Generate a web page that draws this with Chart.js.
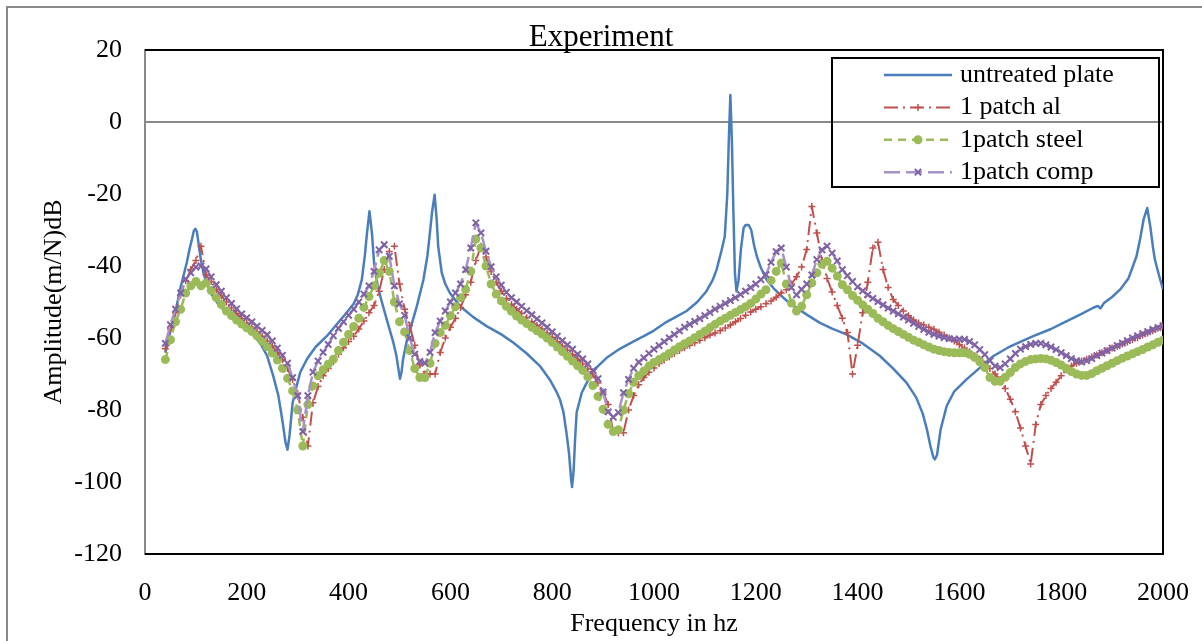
<!DOCTYPE html>
<html>
<head>
<meta charset="utf-8">
<title>Experiment</title>
<script src="https://cdn.jsdelivr.net/npm/chart.js@4.4.1/dist/chart.umd.min.js"></script>
<style>
  body { margin: 0; background: #fff; }
  canvas { display: block; }
</style>
</head>
<body>
<canvas id="fraChart" width="1202" height="641"></canvas>
<script>
// frequency grid of the patched plate measurements (Hz)
const freqHz = [
    40, 50, 60, 70, 80, 90, 100, 110, 120, 130,
    140, 150, 160, 170, 180, 190, 200, 210, 220, 230,
    240, 250, 260, 270, 280, 290, 300, 310, 320, 330,
    340, 350, 360, 370, 380, 390, 400, 410, 420, 430,
    440, 450, 460, 470, 480, 490, 500, 510, 520, 530,
    540, 550, 560, 570, 580, 590, 600, 610, 620, 630,
    640, 650, 660, 670, 680, 690, 700, 710, 720, 730,
    740, 750, 760, 770, 780, 790, 800, 810, 820, 830,
    840, 850, 860, 870, 880, 890, 900, 910, 920, 930,
    940, 950, 960, 970, 980, 990, 1000, 1010, 1020, 1030,
    1040, 1050, 1060, 1070, 1080, 1090, 1100, 1110, 1120, 1130,
    1140, 1150, 1160, 1170, 1180, 1190, 1200, 1210, 1220, 1230,
    1240, 1250, 1260, 1270, 1280, 1290, 1300, 1310, 1320, 1330,
    1340, 1350, 1360, 1370, 1380, 1390, 1400, 1410, 1420, 1430,
    1440, 1450, 1460, 1470, 1480, 1490, 1500, 1510, 1520, 1530,
    1540, 1550, 1560, 1570, 1580, 1590, 1600, 1610, 1620, 1630,
    1640, 1650, 1660, 1670, 1680, 1690, 1700, 1710, 1720, 1730,
    1740, 1750, 1760, 1770, 1780, 1790, 1800, 1810, 1820, 1830,
    1840, 1850, 1860, 1870, 1880, 1890, 1900, 1910, 1920, 1930,
    1940, 1950, 1960, 1970, 1980, 1990, 2000
];

// amplitude (dB) with one aluminium patch
const patchAl = [
    -63.0, -57.5, -53.0, -48.0, -44.0, -41.0, -38.5, -34.5, -42.5, -44.3,
    -46.5, -48.3, -50.0, -51.7, -53.2, -54.6, -55.8, -57.0, -58.2, -59.5,
    -60.8, -62.3, -64.0, -66.0, -68.5, -71.5, -75.5, -82.0, -90.0, -78.0,
    -73.5, -70.5, -68.5, -66.5, -64.5, -62.7, -61.0, -59.5, -57.5, -55.3,
    -53.0, -51.0, -47.0, -41.0, -36.0, -34.5, -45.0, -52.0, -56.5, -62.0,
    -67.5, -70.0, -70.0, -70.0, -64.0, -60.0, -57.0, -54.5, -51.5, -48.0,
    -44.5, -38.5, -34.5, -37.5, -41.5, -44.5, -47.0, -49.0, -50.6, -52.0,
    -53.2, -54.4, -55.5, -56.5, -57.5, -58.6, -59.8, -61.0, -62.2, -63.4,
    -64.6, -65.9, -67.2, -68.6, -70.2, -72.5, -75.0, -78.5, -86.0, -86.3,
    -86.3, -80.0, -76.0, -73.0, -71.0, -69.5, -68.3, -67.1, -66.1, -65.2,
    -64.3, -63.5, -62.7, -62.0, -61.3, -60.6, -59.9, -59.2, -58.6, -58.0,
    -57.2, -56.4, -55.5, -54.6, -53.7, -52.8, -52.0, -51.3, -50.5, -49.7,
    -48.7, -47.5, -46.6, -45.0, -43.0, -40.3, -35.4, -23.5, -30.8, -38.5,
    -43.5, -47.2, -51.0, -54.5, -58.5, -70.0, -62.0, -53.0, -44.5, -35.0,
    -33.4, -41.0, -46.0, -49.3, -51.0, -52.5, -53.8, -55.0, -55.8, -56.4,
    -57.0, -57.6, -58.4, -59.2, -60.0, -60.8, -61.8, -62.8, -63.8, -64.9,
    -65.9, -67.2, -68.5, -70.0, -71.5, -74.0, -77.0, -80.5, -85.0, -90.0,
    -95.0, -84.0, -78.5, -76.0, -74.0, -72.3, -70.5, -68.8, -67.8, -67.0,
    -66.4, -65.9, -65.3, -64.7, -64.1, -63.5, -62.8, -62.3, -61.7, -61.1,
    -60.5, -59.9, -59.2, -58.6, -58.0, -57.3, -56.7
];

// amplitude (dB) with one steel patch
const patchSteel = [
    -66.0, -60.5, -55.5, -52.0, -47.5, -45.5, -44.3, -45.5, -44.7, -46.8,
    -48.8, -50.7, -52.5, -53.8, -55.0, -56.1, -57.2, -58.2, -59.4, -60.9,
    -62.4, -64.2, -66.1, -68.4, -71.2, -74.7, -80.0, -90.0, -78.5, -73.3,
    -70.5, -68.8, -67.3, -65.9, -63.5, -61.2, -59.0, -56.8, -54.5, -51.5,
    -48.5, -45.5, -42.0, -38.5, -41.5, -50.0, -55.5, -58.3, -63.5, -68.5,
    -71.0, -71.0, -67.0, -61.5, -58.5, -56.5, -53.8, -51.3, -48.8, -46.5,
    -41.5, -32.5, -35.0, -40.0, -45.0, -47.8, -49.7, -51.2, -52.6, -53.9,
    -55.0, -56.0, -57.0, -58.0, -58.9, -60.0, -61.2, -62.5, -63.8, -65.1,
    -66.4, -67.7, -69.0, -70.8, -73.2, -76.2, -79.8, -84.0, -86.0, -85.5,
    -80.0, -75.5, -72.3, -70.5, -69.2, -67.8, -66.8, -66.0, -65.2, -64.3,
    -63.3, -62.4, -61.6, -60.8, -59.9, -59.0, -58.1, -57.1, -56.2, -55.3,
    -54.5, -53.7, -52.9, -52.1, -51.3, -50.4, -49.2, -47.8, -46.6, -44.0,
    -41.5, -39.2, -45.0, -50.3, -52.5, -51.2, -48.0, -44.7, -41.9, -39.5,
    -38.7, -40.6, -42.8, -45.2, -46.6, -48.2, -49.5, -50.8, -52.0, -53.2,
    -54.5, -55.5, -56.5, -57.4, -58.2, -59.0, -59.8, -60.6, -61.2, -61.9,
    -62.5, -63.1, -63.5, -63.8, -64.0, -64.1, -64.1, -64.1, -64.5, -65.4,
    -66.6, -68.2, -71.0, -72.0, -72.0, -70.9, -69.6, -68.2, -67.2, -66.5,
    -66.0, -65.8, -65.7, -65.8, -66.2, -66.8, -67.5, -68.4, -69.3, -70.0,
    -70.4, -70.4, -69.9, -69.1, -68.4, -67.7, -67.0, -66.3, -65.6, -65.0,
    -64.4, -63.8, -63.2, -62.5, -61.9, -61.2, -60.6
];

// amplitude (dB) with one composite patch
const patchComp = [
    -61.5, -56.3, -52.0, -47.5, -43.7, -41.9, -40.3, -40.0, -40.8, -43.0,
    -45.2, -47.0, -48.8, -50.4, -51.9, -53.3, -54.4, -55.5, -56.7, -57.9,
    -59.1, -60.8, -62.8, -64.8, -67.0, -71.0, -76.0, -86.0, -76.0, -69.5,
    -66.4, -64.0, -61.8, -59.4, -57.3, -55.5, -53.7, -52.0, -50.0, -47.8,
    -45.5, -41.5, -35.5, -34.1, -37.3, -45.5, -50.5, -53.7, -60.0, -64.5,
    -66.5, -67.0, -64.0, -58.5, -55.3, -52.5, -50.0, -47.5, -45.0, -41.0,
    -35.0, -28.0, -30.8, -35.9, -40.2, -43.0, -45.3, -47.3, -48.8, -50.0,
    -51.2, -52.4, -53.5, -54.7, -55.8, -57.0, -58.3, -59.5, -60.7, -61.9,
    -63.1, -64.5, -65.8, -67.2, -69.0, -71.3, -75.0, -80.5, -82.0, -80.7,
    -75.2, -71.5, -68.4, -66.7, -65.5, -64.3, -63.1, -62.1, -61.0, -60.0,
    -59.0, -58.0, -57.0, -56.2, -55.4, -54.6, -53.8, -52.9, -52.0, -51.2,
    -50.4, -49.6, -48.8, -47.9, -47.0, -46.0, -45.0, -43.8, -42.4, -39.0,
    -36.0, -35.0, -40.3, -46.0, -48.0, -46.5, -45.0, -42.5, -38.2, -35.5,
    -34.5, -36.4, -38.6, -41.0, -42.7, -44.3, -45.8, -46.9, -48.0, -49.0,
    -49.9, -50.8, -51.7, -52.5, -53.3, -54.2, -55.0, -55.9, -56.8, -57.6,
    -58.4, -59.0, -59.5, -59.9, -60.2, -60.3, -60.3, -60.4, -61.0, -61.9,
    -63.2, -64.6, -66.3, -67.8, -68.2, -67.2, -65.8, -64.3, -63.1, -62.4,
    -61.8, -61.5, -61.5, -61.9, -62.5, -63.2, -64.1, -64.9, -65.7, -66.3,
    -66.7, -66.3, -65.7, -64.9, -64.2, -63.5, -62.8, -62.1, -61.4, -60.7,
    -60.0, -59.4, -58.8, -58.2, -57.6, -57.1, -56.6
];

// untreated plate, sampled more finely around the sharp resonances
const plateFreq = [
    40, 50, 60, 69, 76, 82, 88, 92, 96, 99,
    102, 106, 110, 115, 121, 130, 147, 165, 187, 205,
    226, 240, 252, 262, 270, 276, 280, 284, 290, 298,
    305, 318, 335, 357, 376, 396, 410, 418, 426, 432,
    436, 441, 446, 450, 457, 464, 475, 488, 494, 498,
    501, 504, 507, 514, 521, 534, 547, 555, 559, 564,
    569, 573, 576, 583, 590, 599, 619, 645, 671, 700,
    724, 750, 776, 795, 808, 815, 822, 828, 833, 837,
    839, 842, 845, 848, 858, 868, 874, 890, 907, 933,
    959, 980, 999, 1025, 1045, 1064, 1085, 1103, 1115, 1123,
    1133, 1139, 1144, 1147, 1150, 1153, 1156, 1159, 1162, 1166,
    1171, 1176, 1180, 1186, 1191, 1197, 1202, 1210, 1221, 1235,
    1247, 1262, 1280, 1300, 1326, 1350, 1378, 1410, 1444, 1470,
    1496, 1515, 1528, 1536, 1543, 1549, 1552, 1556, 1563, 1575,
    1590, 1614, 1640, 1667, 1700, 1745, 1780, 1811, 1840, 1863,
    1872, 1877, 1884, 1900, 1916, 1932, 1948, 1955, 1962, 1969,
    1975, 1980, 1984, 1992, 2000
];
const plateDb = [
    -64.1, -58.0, -52.5, -46.5, -42.5, -39.1, -35.0, -32.7, -30.2, -29.7,
    -30.5, -34.5, -38.5, -42.0, -44.7, -47.8, -51.2, -53.5, -55.8, -58.0,
    -61.3, -65.0, -70.6, -76.0, -83.0, -89.0, -91.0, -87.0, -78.0, -73.3,
    -69.5, -65.9, -62.5, -59.5, -56.3, -53.0, -50.5, -48.0, -43.8, -37.0,
    -31.0, -24.8, -31.0, -39.1, -45.5, -49.3, -54.9, -61.3, -65.0, -68.7,
    -71.3, -69.5, -65.9, -61.0, -57.6, -51.2, -43.8, -37.0, -31.8, -25.0,
    -20.2, -27.0, -34.5, -41.9, -45.0, -47.5, -51.2, -54.2, -56.7, -59.0,
    -61.3, -64.3, -67.8, -71.5, -74.8, -77.0, -80.5, -86.3, -92.0, -99.0,
    -101.4, -97.0, -88.0, -80.7, -75.2, -72.4, -70.6, -67.8, -65.5, -63.0,
    -61.0, -59.5, -58.0, -55.5, -54.0, -52.5, -50.0, -47.0, -44.0, -41.0,
    -35.5, -31.8, -20.0, -5.0, 7.5, -5.0, -25.0, -42.0, -47.0, -44.0,
    -35.0, -29.5, -28.6, -28.6, -30.0, -34.5, -37.3, -40.5, -43.8, -46.2,
    -47.9, -49.8, -51.6, -53.5, -55.8, -57.4, -59.0, -61.5, -65.0, -68.5,
    -72.4, -76.5, -81.0, -85.3, -90.0, -93.2, -93.7, -92.5, -85.5, -78.9,
    -74.8, -71.5, -68.3, -65.0, -62.3, -59.5, -57.5, -55.3, -53.3, -51.6,
    -51.1, -51.8, -50.3, -48.6, -46.5, -43.5, -37.3, -32.5, -27.0, -23.9,
    -29.0, -34.5, -38.2, -42.5, -46.5
];

const seriesNames = ['untreated plate', '1 patch al', '1patch steel', '1patch comp'];

const serif = "'Liberation Serif', 'Times New Roman', serif";
const axisGray = '#898989';

function toPoints(xs, ys) {
    return xs.map((x, i) => ({ x: x, y: ys[i] }));
}

// white page, outer chart border and the black plot-area frame
const framePlugin = {
    id: 'frame',
    beforeDraw(chart) {
        const ctx = chart.ctx;
        ctx.save();
        ctx.fillStyle = '#fff';
        ctx.fillRect(0, 0, chart.width, chart.height);
        ctx.strokeStyle = axisGray;
        ctx.lineWidth = 2;
        ctx.strokeRect(7, 7, chart.width + 20, chart.height + 20);
        ctx.restore();
    },
    beforeDatasetsDraw(chart) {
        const { ctx, chartArea: a } = chart;
        ctx.save();
        ctx.strokeStyle = '#000';
        ctx.lineWidth = 2;
        ctx.beginPath();
        ctx.moveTo(a.left, a.top);
        ctx.lineTo(a.right, a.top);
        ctx.lineTo(a.right, a.bottom);
        ctx.lineTo(a.left, a.bottom);
        ctx.stroke();
        ctx.restore();
    }
};

function drawMarker(ctx, ds, x, y) {
    ctx.save();
    ctx.fillStyle = ds.pointBackgroundColor || ds.borderColor;
    ctx.strokeStyle = ds.pointBorderColor || ds.borderColor;
    ctx.lineWidth = ds.pointBorderWidth || 1;
    const r = ds.pointRadius;
    ctx.beginPath();
    if (ds.pointStyle === 'circle') {
        ctx.arc(x, y, r, 0, Math.PI * 2);
        ctx.fill();
    } else if (ds.pointStyle === 'cross') {
        ctx.moveTo(x - r, y); ctx.lineTo(x + r, y);
        ctx.moveTo(x, y - r); ctx.lineTo(x, y + r);
        ctx.stroke();
    } else {
        const d = r * 0.7071;
        ctx.moveTo(x - d, y - d); ctx.lineTo(x + d, y + d);
        ctx.moveTo(x - d, y + d); ctx.lineTo(x + d, y - d);
        ctx.stroke();
    }
    ctx.restore();
}

// boxed legend in the upper right of the plot
const boxLegend = {
    id: 'boxLegend',
    afterDraw(chart) {
        const ctx = chart.ctx;
        ctx.save();
        ctx.strokeStyle = '#000';
        ctx.lineWidth = 2;
        ctx.strokeRect(832, 58, 327, 129);
        ctx.font = '26px ' + serif;
        ctx.textBaseline = 'middle';
        ctx.textAlign = 'left';
        chart.data.datasets.forEach((ds, i) => {
            const y = 75 + i * 32.4;
            ctx.strokeStyle = ds.borderColor;
            ctx.lineWidth = ds.borderWidth;
            ctx.setLineDash(ds.borderDash || []);
            ctx.beginPath();
            ctx.moveTo(884, y);
            ctx.lineTo(952, y);
            ctx.stroke();
            ctx.setLineDash([]);
            if (ds.pointRadius > 0) drawMarker(ctx, ds, 918, y);
            ctx.fillStyle = '#000';
            ctx.fillText(ds.label, 960, y);
        });
        ctx.restore();
    }
};

const tickFont = { family: serif, size: 26 };

new Chart(document.getElementById('fraChart'), {
    type: 'line',
    data: {
        datasets: [
            {
                label: seriesNames[0],
                data: toPoints(plateFreq, plateDb),
                borderColor: '#4a7ebb',
                borderWidth: 2.5,
                pointRadius: 0,
                order: 4
            },
            {
                label: seriesNames[1],
                data: toPoints(freqHz, patchAl),
                borderColor: '#c0504d',
                borderWidth: 2,
                borderDash: [14, 5, 2, 5],
                pointStyle: 'cross',
                pointRadius: 3.5,
                pointBorderWidth: 1.5,
                pointBorderColor: '#c0504d',
                order: 3
            },
            {
                label: seriesNames[2],
                data: toPoints(freqHz, patchSteel),
                borderColor: '#9bbb59',
                borderWidth: 2.5,
                borderDash: [8, 6],
                pointStyle: 'circle',
                pointRadius: 4.5,
                pointBackgroundColor: '#9bbb59',
                pointBorderColor: '#9bbb59',
                pointBorderWidth: 0,
                order: 2
            },
            {
                label: seriesNames[3],
                data: toPoints(freqHz, patchComp),
                borderColor: '#a692c8',
                borderWidth: 2.5,
                borderDash: [16, 6],
                pointStyle: 'crossRot',
                pointRadius: 4.5,
                pointBorderColor: '#7f62a4',
                pointBorderWidth: 2,
                order: 1
            }
        ]
    },
    options: {
        responsive: false,
        devicePixelRatio: 1,
        animation: false,
        events: [],
        layout: { padding: { left: 39, right: 39, top: 0, bottom: 0 } },
        elements: { line: { tension: 0, borderJoinStyle: 'round' } },
        plugins: {
            legend: { display: false },
            tooltip: { enabled: false },
            title: {
                display: true,
                text: 'Experiment',
                color: '#000',
                font: { family: serif, size: 31, weight: 'normal', lineHeight: 0.8 },
                padding: { top: 25.2, bottom: 0 }
            }
        },
        scales: {
            x: {
                type: 'linear',
                min: 0,
                max: 2000,
                ticks: {
                    stepSize: 200,
                    autoSkip: false,
                    maxRotation: 0,
                    color: '#000',
                    font: tickFont,
                    padding: 16,
                    callback: v => String(v)
                },
                grid: { display: false },
                border: { color: '#000', width: 2 },
                title: {
                    display: true,
                    text: 'Frequency in hz',
                    color: '#000',
                    font: tickFont,
                    padding: { top: 0, bottom: 1.4 }
                },
                afterFit(scale) {
                    scale.height = 87;
                    // the "2000" label fits in the right margin already
                    scale.paddingRight = 0;
                }
            },
            y: {
                min: -120,
                max: 20,
                ticks: {
                    stepSize: 20,
                    color: '#000',
                    font: tickFont,
                    padding: 23,
                    callback: v => String(v)
                },
                grid: {
                    drawTicks: false,
                    lineWidth: 2,
                    color: ctx => (ctx.tick && ctx.tick.value === 0) ? axisGray : 'rgba(0,0,0,0)'
                },
                border: { color: axisGray, width: 2 },
                title: {
                    display: true,
                    text: 'Amplitude(m/N)dB',
                    color: '#000',
                    font: tickFont,
                    padding: { top: 0, bottom: 0 }
                },
                afterFit(scale) { scale.width = 106; }
            }
        }
    },
    plugins: [framePlugin, boxLegend]
});
</script>
</body>
</html>
